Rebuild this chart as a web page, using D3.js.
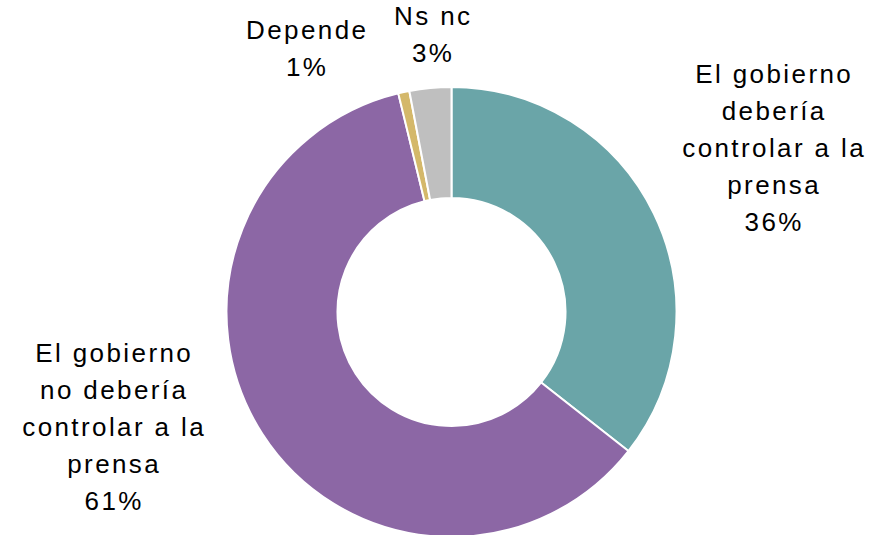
<!DOCTYPE html>
<html>
<head>
<meta charset="utf-8">
<script src="https://cdn.jsdelivr.net/npm/d3@7"></script>
<style>
  html, body { margin: 0; padding: 0; background: #fff; }
  svg { display: block; }
</style>
</head>
<body>
<svg id="chart" width="875" height="535"></svg>
<script>
// Data
const categories = [
  "El gobierno debería controlar a la prensa",
  "El gobierno no debería controlar a la prensa",
  "Depende",
  "Ns nc"
];
const values = [35.6, 60.6, 0.8, 3.0];
const valueLabels = ["36%", "61%", "1%", "3%"];
const labelLines = [
  ["El gobierno", "debería", "controlar a la", "prensa"],
  ["El gobierno", "no debería", "controlar a la", "prensa"],
  ["Depende"],
  ["Ns nc"]
];
const colors = ["#6aa5a8", "#8c67a5", "#d4b86a", "#bfbfbf"];

// Layout
const W = 875, H = 535;
const cx = 451.5, cy = 312;
const outerR = 225, innerR = 114;
const labelPos = [
  { x: 773, y: 83 },
  { x: 113, y: 362 },
  { x: 306, y: 39 },
  { x: 432, y: 25 }
];
const lineH = 37;
const fontSize = 26;
const ls = 2.4;

const svg = d3.select("#chart");
const g = svg.append("g").attr("transform", `translate(${cx},${cy})`);

const pie = d3.pie().sort(null).value(d => d).startAngle(0).endAngle(2 * Math.PI);
const arc = d3.arc().innerRadius(innerR).outerRadius(outerR);

g.selectAll("path")
  .data(pie(values))
  .join("path")
  .attr("d", arc)
  .attr("fill", (d, i) => colors[i])
  .attr("stroke", "#fff")
  .attr("stroke-width", 2)
  .attr("stroke-linejoin", "round");

const labels = svg.append("g")
  .attr("font-family", "'Liberation Sans', Arial, sans-serif")
  .attr("font-size", fontSize)
  .attr("fill", "#000")
  .attr("text-anchor", "middle");

categories.forEach((c, i) => {
  const lines = labelLines[i].concat([valueLabels[i]]);
  const t = labels.append("text")
    .attr("x", labelPos[i].x)
    .attr("y", labelPos[i].y)
    .style("letter-spacing", ls + "px");
  lines.forEach((ln, j) => {
    t.append("tspan")
      .attr("x", labelPos[i].x + ls / 2)
      .attr("y", labelPos[i].y + j * lineH)
      .text(ln);
  });
});
</script>
</body>
</html>
